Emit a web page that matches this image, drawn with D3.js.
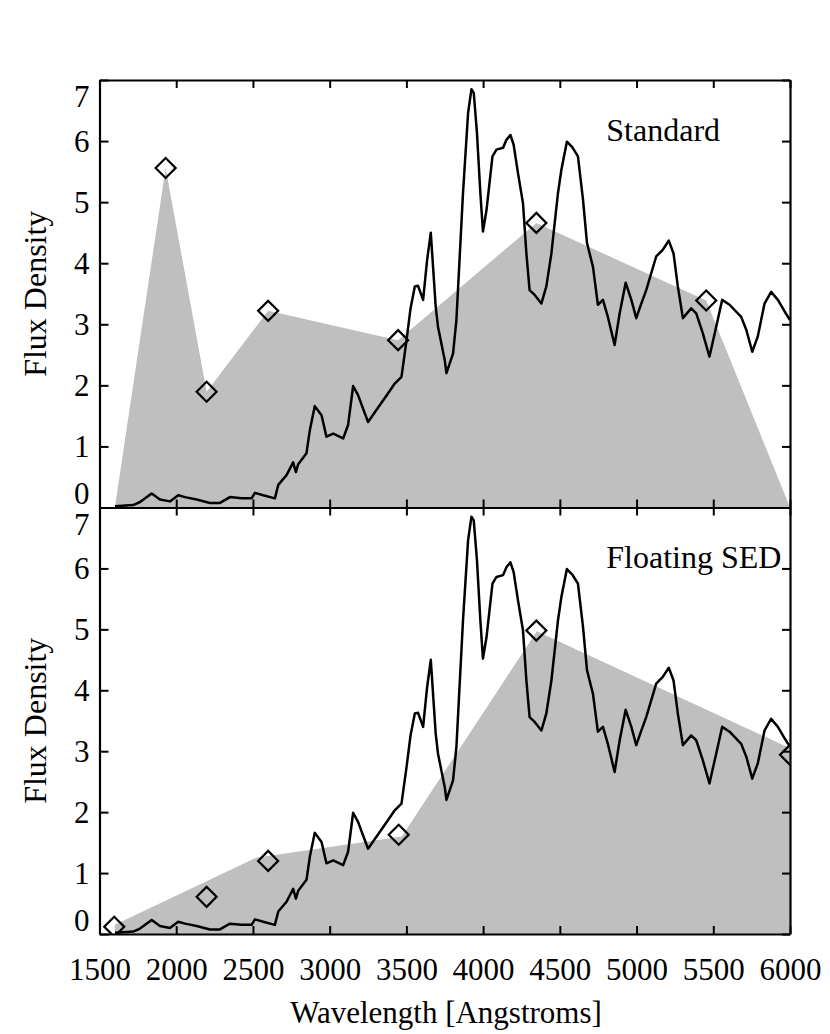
<!DOCTYPE html>
<html>
<head>
<meta charset="utf-8">
<script src="https://cdn.jsdelivr.net/npm/d3@7"></script>
<style>
  body { margin: 0; background: #fff; }
  text { font-family: "Liberation Serif", "Times New Roman", serif; fill: #000; }
</style>
</head>
<body>
<script>
// canvas size
var width = 830
var height = 1034

// spectrum (same in both panels)
const specWave = [1601,1720,1764,1840,1894,1959,2013,2057,2133,2220,2285,2350,2426,2491,2513,2567,2643,2665,2719,2762,2780,2795,2849,2871,2903,2947,2979,3023,3088,3120,3153,3185,3250,3381,3424,3468,3501,3527,3555,3576,3609,3635,3659,3691,3706,3750,3761,3804,3826,3869,3902,3924,3939,3960,3982,3999,4022,4061,4087,4130,4152,4178,4199,4227,4260,4282,4303,4336,4380,4412,4445,4488,4510,4546,4581,4618,4651,4677,4716,4748,4781,4813,4857,4890,4929,4966,4998,5024,5063,5096,5128,5171,5210,5241,5269,5302,5356,5389,5432,5475,5519,5558,5606,5682,5715,5754,5790,5834,5877,5921,5965,6000]
const specFlux = [0.02,0.04,0.09,0.23,0.13,0.10,0.20,0.17,0.13,0.075,0.075,0.17,0.15,0.15,0.24,0.20,0.15,0.37,0.53,0.74,0.58,0.71,0.89,1.27,1.66,1.51,1.16,1.21,1.13,1.35,1.99,1.84,1.40,1.87,2.03,2.14,2.74,3.26,3.62,3.63,3.40,4.05,4.50,3.29,2.96,2.41,2.20,2.52,3.07,5.15,6.46,6.85,6.79,6.13,5.15,4.52,4.87,5.75,5.86,5.89,6.02,6.10,5.94,5.48,4.98,4.16,3.56,3.48,3.34,3.62,4.16,5.15,5.53,5.99,5.90,5.75,5.04,4.33,3.94,3.32,3.40,3.12,2.66,3.18,3.68,3.40,3.10,3.29,3.56,3.84,4.11,4.22,4.37,4.16,3.62,3.10,3.26,3.18,2.85,2.47,2.96,3.40,3.32,3.12,2.91,2.55,2.80,3.34,3.53,3.40,3.21,3.07]

// "Standard" panel: SED polygon and photometry diamonds
const stdSedWave = [1600,1931,2198,2599,3446,4347,5454,6000]
const stdSedFlux = [0,5.56,1.895,3.22,2.74,4.66,3.39,0]
const stdPhotWave = [1931,2198,2599,3446,4347,5454]
const stdPhotFlux = [5.56,1.895,3.22,2.74,4.66,3.39]

// "Floating SED" panel
const floatSedWave = [1600,2520,3470,4350,6000]
const floatSedFlux = [0.15,1.25,1.6,4.97,3.05]
const floatPhotWave = [1596,2198,2599,3450,4347,6000]
const floatPhotFlux = [0.12,0.61,1.20,1.63,4.98,2.94]

const xTicks = [1500,2000,2500,3000,3500,4000,4500,5000,5500,6000]
const yTicks = [0,1,2,3,4,5,6,7]

const FONT = '"Liberation Serif", "Times New Roman", serif'

const svg = d3.select('body').append('svg')
  .attr('width', width)
  .attr('height', height)

var left = 99.5, right = 790
var x = d3.scaleLinear().domain([1500, 6000]).range([left, right])

var panels = [
  { top: 80, bottom: 507.5, label: 'Standard', sedW: stdSedWave, sedF: stdSedFlux, phW: stdPhotWave, phF: stdPhotFlux, id: 'p0' },
  { top: 507.5, bottom: 934, label: 'Floating SED', sedW: floatSedWave, sedF: floatSedFlux, phW: floatPhotWave, phF: floatPhotFlux, id: 'p1' }
]

var spec = specWave.map((w, i) => [w, specFlux[i]])

panels.forEach(function(p, k){
  var y = d3.scaleLinear().domain([0, 7]).range([p.bottom, p.top])

  svg.append('clipPath').attr('id', p.id)
    .append('rect')
    .attr('x', left).attr('y', p.top)
    .attr('width', right - left).attr('height', p.bottom - p.top)

  var g = svg.append('g').attr('clip-path', 'url(#' + p.id + ')')

  // gray SED polygon
  var sed = p.sedW.map((w, i) => [w, p.sedF[i]])
  g.append('path')
    .datum(sed)
    .attr('d', d3.area().x(d => x(d[0])).y0(y(0)).y1(d => y(d[1])))
    .style('fill', '#bfbfbf')

  // spectrum line
  g.append('path')
    .datum(spec)
    .attr('d', d3.line().x(d => x(d[0])).y(d => y(d[1])))
    .style('fill', 'none')
    .style('stroke', '#000')
    .style('stroke-width', 2.5)
    .style('stroke-linejoin', 'round')

  // diamonds
  var ph = p.phW.map((w, i) => [w, p.phF[i]])
  g.selectAll('.dia')
    .data(ph)
    .enter()
    .append('path')
    .attr('d', d3.symbol().type(d3.symbolSquare).size(200))
    .attr('transform', d => 'translate(' + x(d[0]) + ',' + y(d[1]) + ') rotate(45)')
    .style('fill', 'none')
    .style('stroke', '#000')
    .style('stroke-width', 2.2)

  // axes, ticks pointing inward
  var axB = svg.append('g').attr('transform', 'translate(0,' + p.bottom + ')')
    .call(d3.axisBottom(x).tickValues(xTicks).tickSize(-8).tickSizeOuter(0).tickFormat(k == 1 ? d3.format('d') : ''))
  var axT = svg.append('g').attr('transform', 'translate(0,' + p.top + ')')
    .call(d3.axisTop(x).tickValues(xTicks).tickSize(-8).tickSizeOuter(0).tickFormat(''))
  var axL = svg.append('g').attr('transform', 'translate(' + left + ',0)')
    .call(d3.axisLeft(y).tickValues(yTicks).tickSize(-9).tickSizeOuter(0).tickPadding(10).tickFormat(d3.format('d')))
  var axR = svg.append('g').attr('transform', 'translate(' + right + ',0)')
    .call(d3.axisRight(y).tickValues(yTicks).tickSize(-8).tickSizeOuter(0).tickFormat(''))

  ;[axB, axT, axL, axR].forEach(function(a){
    a.attr('font-family', FONT).attr('font-size', 31)
    a.selectAll('path.domain').style('stroke', '#000').style('stroke-width', 2.2)
    a.selectAll('line').style('stroke', '#000').style('stroke-width', 2)
    a.selectAll('text').style('font-family', FONT).style('font-size', '31px')
  })

  // first and last y labels kept inside the panel
  axL.selectAll('.tick text')
    .attr('dy', d => d == 0 ? '-0.12em' : (d == 7 ? '0.86em' : '0.34em'))
  axB.selectAll('.tick text').attr('dy', '1.4em')

  // panel label
  svg.append('text')
    .attr('x', x(4803))
    .attr('y', y(6))
    .style('font-size', '32px')
    .text(p.label)

  // y axis title
  svg.append('text')
    .attr('transform', 'translate(46,' + ((p.top + p.bottom) / 2) + ') rotate(-90)')
    .attr('text-anchor', 'middle')
    .style('font-size', '32px')
    .text('Flux Density')
})

// x axis title
svg.append('text')
  .attr('x', 446)
  .attr('y', 1023)
  .attr('text-anchor', 'middle')
  .style('font-size', '31px')
  .text('Wavelength [Angstroms]')
</script>
</body>
</html>
